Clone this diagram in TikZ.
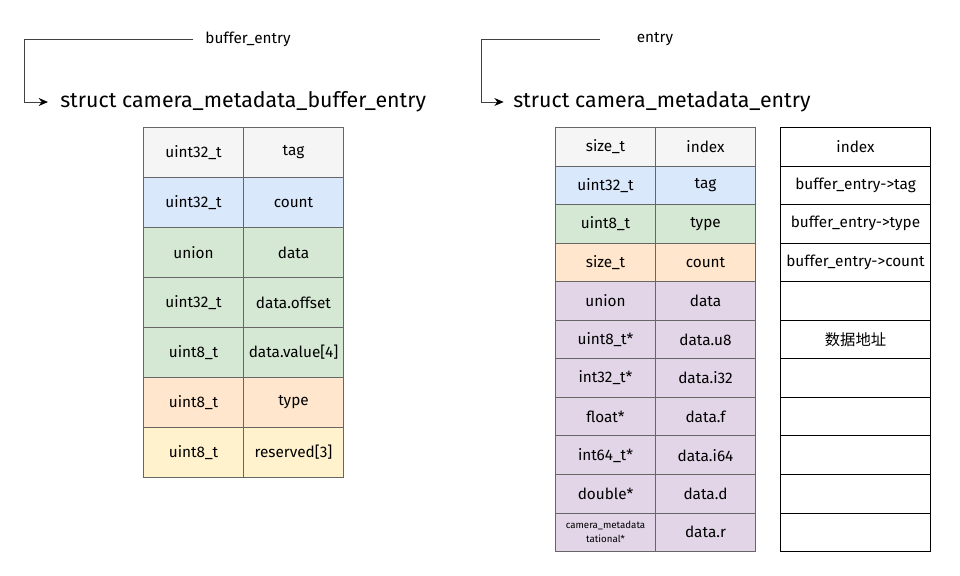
\documentclass[tikz,border=0pt]{standalone}
\usepackage{fontspec}
\setmainfont{Fira Sans}
\newfontfamily\cjk{Noto Sans CJK SC}
\usetikzlibrary{positioning,arrows.meta}
\definecolor{cellgray}{HTML}{F5F5F5}
\definecolor{cellblue}{HTML}{DAE8FC}
\definecolor{cellgreen}{HTML}{D5E8D4}
\definecolor{cellorange}{HTML}{FFE6CC}
\definecolor{cellyellow}{HTML}{FFF2CC}
\definecolor{cellpurple}{HTML}{E1D5E7}
\definecolor{cellborder}{HTML}{666666}
\begin{document}
\begin{tikzpicture}[x=0.75pt, y=-0.75pt,
  cell/.style={draw=cellborder, line width=0.75pt, inner sep=0pt, anchor=north west,
    minimum width=75pt, font=\fontsize{11.5}{13}\selectfont, align=center},
  tallcell/.style={cell, minimum height=37.5pt},
  shortcell/.style={cell, minimum height=28.91pt},
  slotcell/.style={shortcell, draw=black, minimum width=112.5pt},
  varname/.style={font=\fontsize{11.5}{13}\selectfont, minimum width=82pt, inner sep=0pt},
  structname/.style={font=\fontsize{16}{18}\selectfont, anchor=west, inner sep=0pt},
  pointer/.style={draw=black!75, line width=0.75pt, -{Stealth[length=7pt, width=6pt, black]}}]
\useasboundingbox (0,0) rectangle (960,575);

% headings
\node[varname] (bufvar) at (248,39) {buffer\_entry};
\node[structname] (bufstruct) at (60,102) {struct camera\_metadata\_buffer\_entry};
\coordinate (bufturn) at (24,39);
\draw[pointer] (bufvar.west) -- (bufturn) |- ([xshift=-9pt]bufstruct.west);

\node[varname] (entvar) at (655,39) {entry};
\node[structname] (entstruct) at (513,102) {struct camera\_metadata\_entry};
\coordinate (entturn) at (481,39);
\draw[pointer] (entvar.west) -- (entturn) |- ([xshift=-7pt]entstruct.west);

% camera_metadata_buffer_entry
\foreach \ty/\fld/\col [count=\i from 0] in {
    uint32\_t/tag/cellgray, uint32\_t/count/cellblue, union/data/cellgreen,
    uint32\_t/data.offset/cellgreen, uint8\_t/data.value[4]/cellgreen,
    uint8\_t/type/cellorange, uint8\_t/reserved[3]/cellyellow} {
  \node[tallcell, fill=\col] (bt\i) at (143,{127+50*\i}) {\ty};
  \node[tallcell, fill=\col] (bf\i) at (243,{127+50*\i}) {\fld};
}

% camera_metadata_entry
\foreach \ty/\fld/\col [count=\i from 0] in {
    size\_t/index/cellgray, uint32\_t/tag/cellblue, uint8\_t/type/cellgreen,
    size\_t/count/cellorange, union/data/cellpurple, uint8\_t*/data.u8/cellpurple,
    int32\_t*/data.i32/cellpurple, float*/data.f/cellpurple,
    int64\_t*/data.i64/cellpurple, double*/data.d/cellpurple} {
  \node[shortcell, fill=\col] (et\i) at (555,{127+38.55*\i}) {\ty};
  \node[shortcell, fill=\col] (ef\i) at (655,{127+38.55*\i}) {\fld};
}
\node[shortcell, fill=cellpurple, font=\fontsize{7.3}{10.5}\selectfont] (et10) at (555,{127+38.55*10})
  {camera\_metadata\\tational*};
\node[shortcell, fill=cellpurple] (ef10) at (655,{127+38.55*10}) {data.r};

% entry slots
\foreach \txt [count=\i from 0] in {index, buffer\_entry->tag, buffer\_entry->type,
    buffer\_entry->count, {}, {\cjk 数据地址}, {}, {}, {}, {}, {}} {
  \node[slotcell] (slot\i) at (780,{127+38.55*\i}) {\txt};
}
\end{tikzpicture}
\end{document}
